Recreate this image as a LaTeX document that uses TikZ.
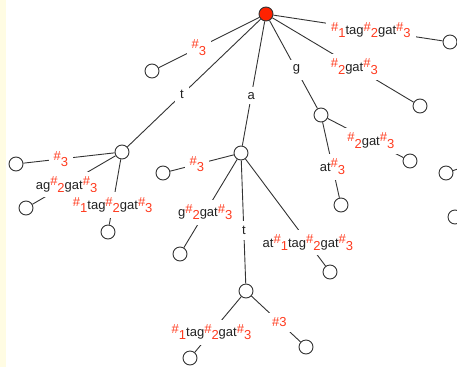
\documentclass[tikz,border=0pt]{standalone}
\usepackage{fontspec}
\setmainfont{Liberation Sans}
\definecolor{hred}{HTML}{FF3B1F}
\definecolor{rootred}{HTML}{FF2200}
\definecolor{linegray}{HTML}{333333}
\definecolor{txtgray}{HTML}{222222}
\definecolor{strip}{HTML}{FFFCE3}
\newcommand{\hh}[1]{{\color{hred}\raisebox{3.5pt}{\#}\raisebox{-3pt}{#1}}}
\begin{document}
\begin{tikzpicture}[x=1pt,y=-1pt,
  every node/.style={font=\fontsize{13}{15}\selectfont, text=txtgray},
  leaf/.style={circle, draw=linegray, line width=0.9pt, fill=white, minimum size=14pt, inner sep=0pt},
  rootnode/.style={circle, draw=linegray, line width=0.9pt, fill=rootred, minimum size=14pt, inner sep=0pt},
  lab/.style={fill=white, inner sep=5pt},
  edge/.style={draw=linegray, line width=0.9pt}]
\useasboundingbox (0,0) rectangle (457,367);
\clip (0,0) rectangle (457,367);
\fill[strip] (0,0) rectangle (6,367);
% nodes
\node[rootnode] (r) at (266,14) {};
\node[leaf] (nt) at (122,152) {};
\node[leaf] (na) at (241,153) {};
\node[leaf] (ng) at (321,115) {};
\node[leaf] (nat) at (246,291) {};
\node[leaf] (l1) at (152,71) {};
\node[leaf] (l2) at (420,106) {};
\node[leaf] (l3) at (450,42) {};
\node[leaf] (l4) at (16,164) {};
\node[leaf] (l5) at (26,208) {};
\node[leaf] (l6) at (108,232) {};
\node[leaf] (l7) at (163,173) {};
\node[leaf] (l8) at (180,254) {};
\node[leaf] (l9) at (330,272) {};
\node[leaf] (l10) at (190,358) {};
\node[leaf] (l11) at (306,347) {};
\node[leaf] (l12) at (410,161) {};
\node[leaf] (l13) at (341,205) {};
\node[leaf] (l14) at (446,173) {};
\node[leaf] (l15) at (455,217) {};
\coordinate (off1) at (490,158);
% edges
\draw[edge] (r) -- node[lab,pos=.6] {\hh{3}} (l1);
\draw[edge] (r) -- node[lab,pos=.59] {t} (nt);
\draw[edge] (r) -- node[lab,pos=.6] {a} (na);
\draw[edge] (r) -- node[lab,pos=.56] {g} (ng);
\draw[edge] (r) -- node[lab,pos=.58] {\hh{2}gat\hh{3}} (l2);
\draw[edge] (r) -- node[lab,pos=.576] {\hh{1}tag\hh{2}gat\hh{3}} (l3);
\draw[edge] (nt) -- node[lab,pos=.59] {\hh{3}} (l4);
\draw[edge] (nt) -- node[lab,pos=.59] {ag\hh{2}gat\hh{3}} (l5);
\draw[edge] (nt) -- node[lab,pos=.7] {\hh{1}tag\hh{2}gat\hh{3}} (l6);
\draw[edge] (na) -- node[lab,pos=.58] {\hh{3}} (l7);
\draw[edge] (na) -- node[lab,pos=.6] {g\hh{2}gat\hh{3}} (l8);
\draw[edge] (na) -- node[lab,pos=.57] {t} (nat);
\draw[edge] (na) -- node[lab,pos=.78] {at\hh{1}tag\hh{2}gat\hh{3}} (l9);
\draw[edge] (nat) -- node[lab,pos=.64] {\hh{1}tag\hh{2}gat\hh{3}} (l10);
\draw[edge] (nat) -- node[lab,pos=.57] {{\color{hred}\#3}} (l11);
\draw[edge] (ng) -- node[lab,pos=.57] {\hh{2}gat\hh{3}} (l12);
\draw[edge] (ng) -- node[lab,pos=.59] {at\hh{3}} (l13);
\draw[edge] (l14) -- (off1);
\end{tikzpicture}
\end{document}
